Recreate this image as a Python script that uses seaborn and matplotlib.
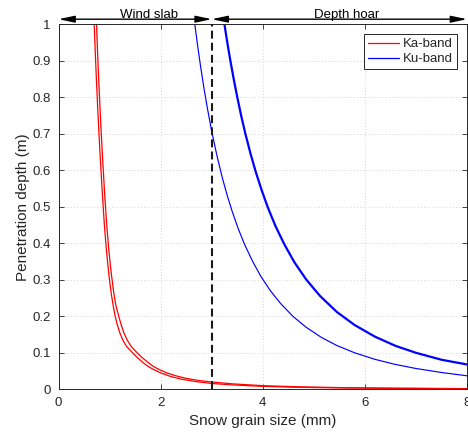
import matplotlib
matplotlib.use("Agg")
import matplotlib.pyplot as plt
import pandas as pd
import seaborn as sns
from matplotlib.lines import Line2D

# ---- data ----
ka1_x = [0.700, 0.713, 0.727, 0.742, 0.758, 0.775, 0.793, 0.812, 0.832, 0.853, 0.875, 0.900,
         0.930, 0.960, 0.990, 1.030, 1.070, 1.110, 1.150, 1.200, 1.260, 1.330, 1.450, 1.550,
         1.650, 1.750, 1.850, 2.000, 2.200, 2.400, 2.700, 3.000, 3.400, 4.000, 4.700, 5.500,
         6.500, 8.000]
ka1_y = [1.000, 0.950, 0.900, 0.850, 0.800, 0.750, 0.700, 0.650, 0.600, 0.550, 0.500, 0.448,
         0.395, 0.350, 0.310, 0.265, 0.230, 0.200, 0.178, 0.155, 0.135, 0.118, 0.100, 0.086,
         0.074, 0.063, 0.055, 0.045, 0.035, 0.028, 0.021, 0.016, 0.012, 0.008, 0.0055, 0.0038,
         0.0026, 0.0015]

ka2_x = [0.745, 0.758, 0.772, 0.787, 0.803, 0.820, 0.838, 0.857, 0.877, 0.898, 0.920, 0.946,
         0.977, 1.008, 1.040, 1.082, 1.124, 1.180, 1.225, 1.280, 1.345, 1.420, 1.540, 1.645,
         1.750, 1.855, 1.960, 2.120, 2.300, 2.500, 2.750, 3.000, 3.400, 4.000, 4.700, 5.500,
         6.500, 8.000]
ka2_y = [1.000, 0.950, 0.900, 0.850, 0.800, 0.750, 0.700, 0.650, 0.600, 0.550, 0.500, 0.448,
         0.395, 0.350, 0.310, 0.265, 0.230, 0.200, 0.178, 0.155, 0.135, 0.118, 0.100, 0.086,
         0.074, 0.063, 0.055, 0.045, 0.037, 0.030, 0.024, 0.020, 0.015, 0.010, 0.0068, 0.0047,
         0.0032, 0.0019]

ku1_x = [2.67, 2.72, 2.78, 2.85, 2.92, 3.00, 3.10, 3.20, 3.30, 3.40, 3.52, 3.65, 3.80, 3.96,
         4.15, 4.35, 4.59, 4.85, 5.15, 5.45, 5.80, 6.20, 6.60, 7.00, 7.50, 8.00]
ku1_y = [1.000, 0.946, 0.887, 0.824, 0.767, 0.707, 0.642, 0.584, 0.533, 0.488, 0.440, 0.395,
         0.351, 0.310, 0.270, 0.235, 0.200, 0.170, 0.142, 0.120, 0.100, 0.082, 0.068, 0.057,
         0.046, 0.037]

ku2_x = [3.25, 3.30, 3.36, 3.43, 3.50, 3.58, 3.66, 3.76, 3.86, 3.98, 4.10, 4.25, 4.42, 4.62,
         4.85, 5.12, 5.45, 5.80, 6.20, 6.60, 7.00, 7.50, 8.00]
ku2_y = [1.000, 0.955, 0.905, 0.851, 0.801, 0.748, 0.700, 0.646, 0.597, 0.545, 0.498, 0.447,
         0.398, 0.348, 0.301, 0.256, 0.212, 0.176, 0.144, 0.119, 0.100, 0.081, 0.068]

zone_names = ["Wind slab", "Depth hoar"]
zone_bounds = [0.0, 3.0, 8.0]
zone_label_x = [1.2, 5.0]
band_names = ["Ka-band", "Ku-band"]
x_ticks = [0, 2, 4, 6, 8]
y_ticks = [0, 0.1, 0.2, 0.3, 0.4, 0.5, 0.6, 0.7, 0.8, 0.9, 1.0]
y_tick_labels = ["0", "0.1", "0.2", "0.3", "0.4", "0.5", "0.6", "0.7", "0.8", "0.9", "1"]

curves = [
    ("Ka-band", "ka1", ka1_x, ka1_y),
    ("Ka-band", "ka2", ka2_x, ka2_y),
    ("Ku-band", "ku1", ku1_x, ku1_y),
    ("Ku-band", "ku2", ku2_x, ku2_y),
]
frames = []
for band, cid, xs, ys in curves:
    frames.append(pd.DataFrame({"band": band, "curve": cid, "x": xs, "y": ys}))
df = pd.concat(frames, ignore_index=True)

# ---- style ----
sns.set_theme(style="ticks")
plt.rcParams["font.family"] = ["Liberation Sans", "DejaVu Sans"]
dark = "#262626"

fig = plt.figure(figsize=(4.68, 4.33), dpi=100)
ax = fig.add_axes([58.5 / 468, (433 - 389.3) / 433, (467 - 58.5) / 468, (389.3 - 24.3) / 433])

colors = {"Ka-band": "#ff0000", "Ku-band": "#0000ff"}
widths = {"ka1": 0.9, "ka2": 0.9, "ku1": 0.85, "ku2": 1.6}
for cid, sub in df.groupby("curve", sort=False):
    band = sub["band"].iloc[0]
    sns.lineplot(data=sub, x="x", y="y", ax=ax, color=colors[band], linewidth=widths[cid],
                 sort=False, estimator=None, legend=False)

# zone boundary
ax.axvline(zone_bounds[1], ymin=0, ymax=1, color="#1a1a1a", linewidth=1.5,
           linestyle=(0, (3.8, 2.0)), zorder=3)

ax.set_xlim(0, 8)
ax.set_ylim(0, 1)
ax.set_xticks(x_ticks)
ax.set_xticklabels([str(t) for t in x_ticks])
ax.set_yticks(y_ticks)
ax.set_yticklabels(y_tick_labels)
ax.grid(True, linestyle=(0, (1, 2.5)), color="#c8c8c8", linewidth=0.6)
ax.tick_params(direction="in", top=True, right=True, length=3.5, width=0.6,
               colors=dark, labelsize=9.5, pad=5.5)
for s in ax.spines.values():
    s.set_color(dark)
    s.set_linewidth(0.7)
    s.set_visible(True)

ax.set_xlabel("Snow grain size (mm)", fontsize=11, color=dark, labelpad=4)
ax.set_ylabel("Penetration depth (m)", fontsize=11, color=dark, labelpad=2)

# zone arrows and labels
arrow_y = 1.014
for i, name in enumerate(zone_names):
    x0, x1 = zone_bounds[i], zone_bounds[i + 1]
    ax.annotate("", xy=(x0, arrow_y), xytext=(x1, arrow_y), xycoords="data",
                arrowprops=dict(arrowstyle="<|-|>,head_length=0.8,head_width=0.17",
                                color="black", lw=1.0, shrinkA=0, shrinkB=0),
                annotation_clip=False)
    ax.text(zone_label_x[i], 1.0175, name, ha="left", va="baseline", fontsize=9.5,
            color="black", clip_on=False)

handles = [Line2D([], [], color=colors[b], linewidth=0.9) for b in band_names]
leg = ax.legend(handles, band_names, loc="upper right", fontsize=9.5, frameon=True,
                fancybox=False, edgecolor=dark, framealpha=1, handlelength=2.4,
                handletextpad=0.3, borderaxespad=0.75, labelspacing=0.2, borderpad=0.3)
leg.get_frame().set_linewidth(0.7)

fig.savefig("out.png", dpi=100)
